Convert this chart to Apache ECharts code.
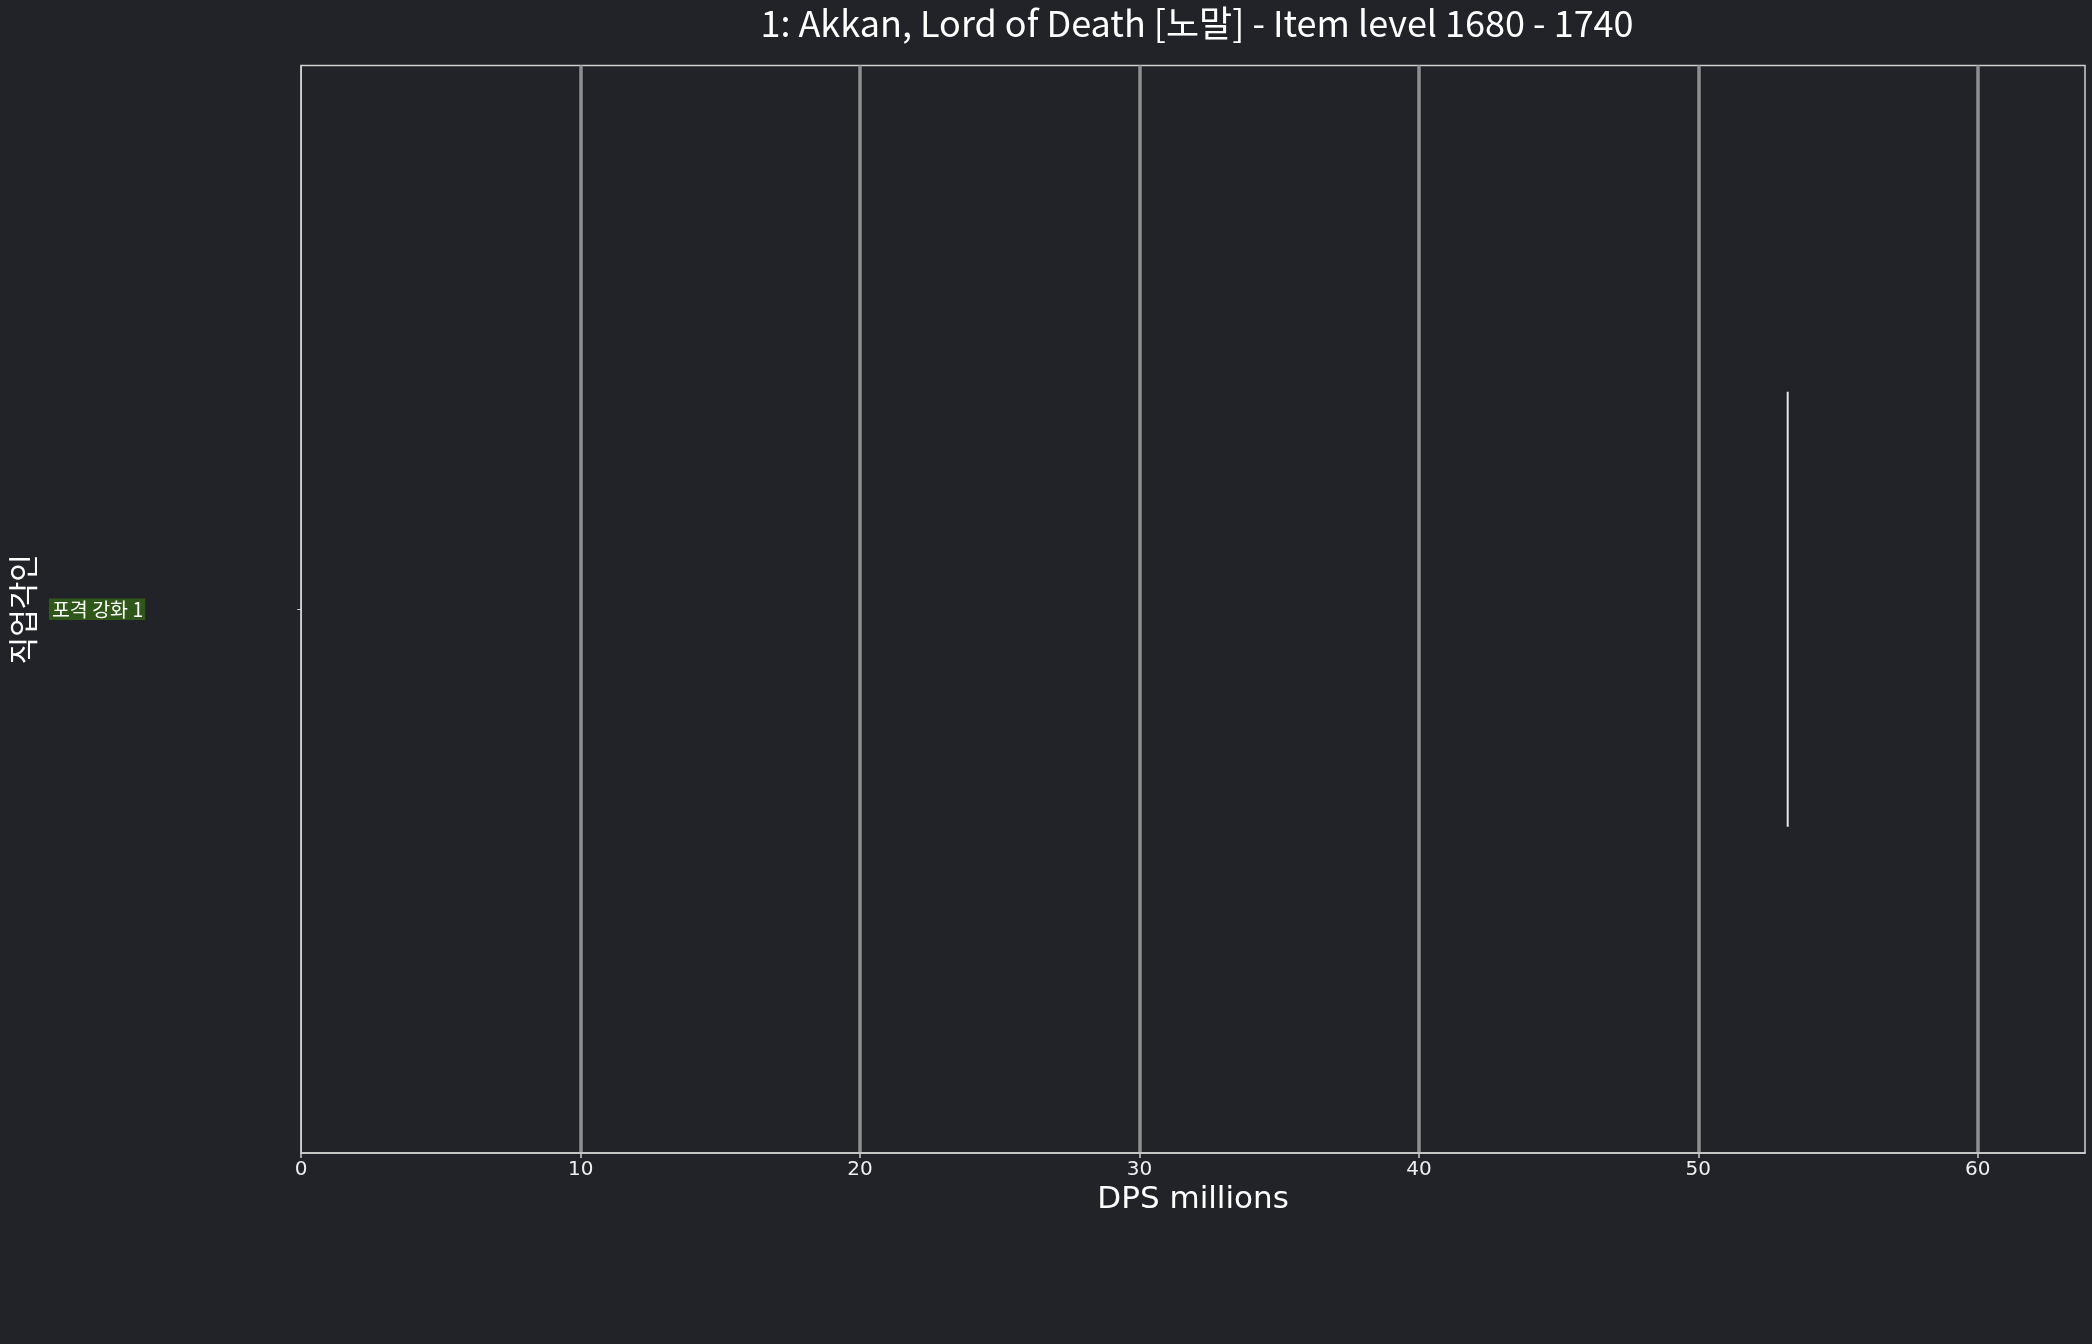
<!DOCTYPE html>
<html>
<head>
<meta charset="utf-8">
<script src="https://cdn.jsdelivr.net/npm/echarts@6/dist/echarts.min.js"></script>
<style>
html,body{margin:0;padding:0;background:#212328;}
#c{width:2092px;height:1344px;}
</style>
</head>
<body>
<div id="c"></div>
<script>
// Data
const categories = ['포격 강화 1'];
const dpsValues = [[53.2, 53.2, 53.2, 53.2, 53.2]]; // min, q1, median, q3, max
const xTicks = [0, 10, 20, 30, 40, 50, 60];
const xMax = 63.84;

const chart = echarts.init(document.getElementById('c'));
chart.setOption({
  backgroundColor: '#212328',
  animation: false,
  title: {
    text: '1: Akkan, Lord of Death [노말] - Item level 1680 - 1740',
    left: 1192, top: 0, textAlign: 'center',
    textStyle: {color: '#ffffff', fontSize: 36, fontWeight: 'normal', fontFamily: 'Noto Sans CJK KR'}
  },
  grid: {left: 300, right: 7, top: 65.5, bottom: 191, show: true, borderColor: '#cfcfcf', borderWidth: 1.5},
  xAxis: {
    type: 'value', min: 0, max: xMax, interval: 10,
    name: 'DPS millions', nameLocation: 'middle', nameGap: 26,
    nameTextStyle: {color: '#ffffff', fontSize: 31, fontFamily: 'DejaVu Sans', verticalAlign: 'top'},
    axisLine: {show: true, lineStyle: {color: '#cfcfcf', width: 1.5}},
    axisTick: {show: true, length: 5, lineStyle: {color: '#cfcfcf', width: 1.5},
      customValues: xTicks},
    axisLabel: {color: '#eeeeee', fontSize: 20, fontFamily: 'DejaVu Sans', margin: 7,
      customValues: xTicks},
    splitLine: {show: true, showMinLine: false, lineStyle: {color: '#8f8f8f', width: 3.5}},
  },
  yAxis: {
    type: 'category', data: categories,
    name: '직업각인', nameLocation: 'middle', nameRotate: 90, nameGap: 258,
    nameTextStyle: {color: '#ffffff', fontSize: 30, fontFamily: 'Noto Sans CJK KR'},
    axisLine: {show: true, lineStyle: {color: '#cfcfcf', width: 1.5}},
    axisTick: {show: true, alignWithLabel: true, length: 4, lineStyle: {color: '#cfcfcf', width: 1}},
    axisLabel: {color: '#ffffff', fontSize: 19.5, fontFamily: 'Noto Sans CJK KR', margin: 156,
      backgroundColor: '#30571a', padding: [1, 2, 1, 3]},
    splitLine: {show: false}
  },
  series: [{
    type: 'boxplot',
    data: dpsValues,
    boxWidth: ['40%', '40%'],
    itemStyle: {color: 'transparent', borderColor: '#e6e6e6', borderWidth: 2},
    emphasis: {disabled: true}
  }]
});
</script>
</body>
</html>
